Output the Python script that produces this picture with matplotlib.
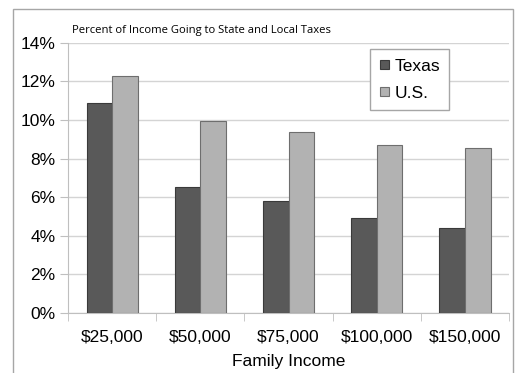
import numpy as np
import matplotlib

matplotlib.use("Agg")
import matplotlib.pyplot as plt
from matplotlib.patches import Rectangle
from matplotlib.ticker import FuncFormatter, FixedLocator

# Share of family income paid in state and local taxes
income_levels = ["$25,000", "$50,000", "$75,000", "$100,000", "$150,000"]
texas = [10.9, 6.55, 5.8, 4.9, 4.4]
us = [12.3, 9.95, 9.4, 8.7, 8.55]

plt.rcParams['font.family'] = ['Liberation Sans', 'DejaVu Sans']

fig = plt.figure(figsize=(5.19, 3.73), dpi=100)
ax = fig.add_axes([0.131, 0.161, 0.85, 0.724])

# light frame around the whole chart (open at the bottom edge)
fig.patches.append(Rectangle((13 / 519, -0.3), 500 / 519, 1.3 - 9 / 373,
                             transform=fig.transFigure, fill=False,
                             edgecolor='#a6a6a6', linewidth=1.0))

x = np.arange(len(income_levels))
w = 0.29
ax.bar(x - w / 2, texas, w, color='#595959', edgecolor='#3a3a3a', linewidth=0.8,
       label='Texas', zorder=3)
ax.bar(x + w / 2, us, w, color='#b2b2b2', edgecolor='#6e6e6e', linewidth=0.8,
       label='U.S.', zorder=3)

ax.set_xlim(-0.5, len(income_levels) - 0.5)
ax.set_ylim(0, 14)
ax.set_yticks(np.arange(0, 15, 2))
ax.yaxis.set_major_formatter(FuncFormatter(lambda v, p: f"{v:.0f}%"))
ax.grid(axis='y', color='#d4d4d4', linewidth=1.0, zorder=0)

# category labels in the middle, tick marks at group boundaries
ax.set_xticks(x)
ax.set_xticklabels(income_levels, fontsize=12.5)
ax.tick_params(axis='x', length=0, pad=12)
ax.xaxis.set_minor_locator(FixedLocator(np.arange(-0.5, len(income_levels), 1)))
ax.tick_params(axis='x', which='minor', length=6, color='#bfbfbf', direction='out')
ax.tick_params(axis='y', labelsize=12.5, length=6, color='#bfbfbf', pad=3)

for s in ['top', 'right']:
    ax.spines[s].set_visible(False)
for s in ['left', 'bottom']:
    ax.spines[s].set_color('#bfbfbf')

ax.set_xlabel("Family Income", fontsize=12.5, labelpad=6.5)

fig.text(72 / 519, 1 - 31 / 373, "Percent of Income Going to State and Local Taxes",
         fontsize=8.1, family=['Open Sans', 'DejaVu Sans'], va='center', ha='left')

leg = ax.legend(loc='upper left', bbox_to_anchor=(370 / 519, 1 - 49 / 373),
                bbox_transform=fig.transFigure, fontsize=12.5, handlelength=0.55,
                handleheight=0.45, handletextpad=0.3, labelspacing=0.7,
                borderpad=0.55, fancybox=False, framealpha=1,
                edgecolor='#a6a6a6', borderaxespad=0)
leg.get_frame().set_linewidth(1.0)

fig.savefig("out.png", dpi=100)
